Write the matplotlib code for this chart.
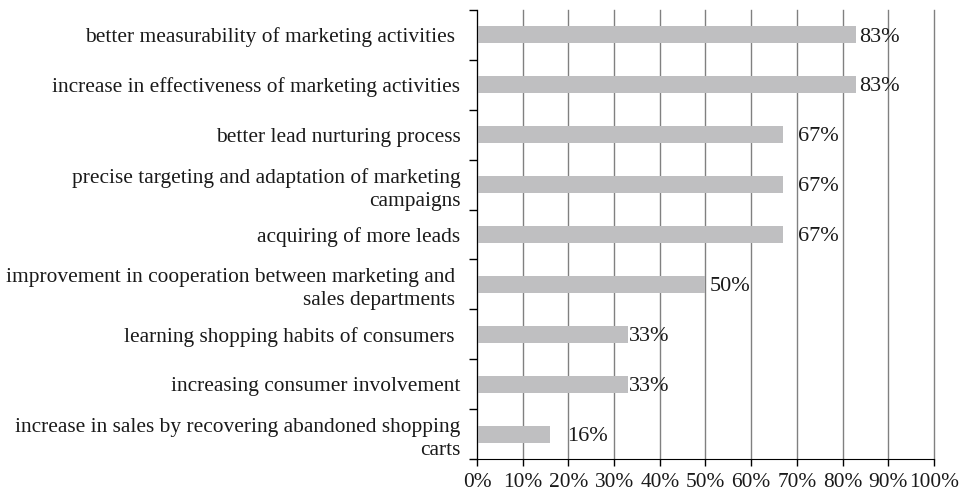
import numpy as np
import matplotlib
matplotlib.use("Agg")
import matplotlib.pyplot as plt
from matplotlib.ticker import FixedLocator, PercentFormatter

plt.rcParams['font.family'] = ['Liberation Serif', 'DejaVu Serif']

# categories top to bottom
categories = [
    "better measurability of marketing activities ",
    "increase in effectiveness of marketing activities",
    "better lead nurturing process",
    "precise targeting and adaptation of marketing\ncampaigns",
    "acquiring of more leads",
    "improvement in cooperation between marketing and \nsales departments ",
    "learning shopping habits of consumers ",
    "increasing consumer involvement",
    "increase in sales by recovering abandoned shopping\ncarts",
]
values = [83, 83, 67, 67, 67, 50, 33, 33, 16]
value_labels = ["83%", "83%", "67%", "67%", "67%", "50%", "33%", "33%", "16%"]
# label offsets from bar end, in points (as placed in the original)
label_pad = [2, 2, 11, 11, 11, 3, 1, 1, 12]

FS = 15.4

fig = plt.figure(figsize=(9.68, 4.95), dpi=100)
ax = fig.add_axes([0.4928, 0.0727, 0.472, 0.9071])

y = np.arange(len(categories))[::-1]
ax.barh(y, values, height=0.34, color="#bfbfc1", zorder=3)

for yi, v, lab, pad in zip(y, values, value_labels, label_pad):
    ax.annotate(lab, (v, yi), xytext=(pad, -1.5), textcoords="offset points",
                ha="left", va="center", fontsize=16, color="#1a1a1a", zorder=4)

ax.set_xlim(0, 100)
ax.set_ylim(-0.5, len(categories) - 0.5)
ax.set_xticks(np.arange(0, 101, 10))
ax.xaxis.set_major_formatter(PercentFormatter(decimals=0))
ax.set_yticks(y)
ax.set_yticklabels(categories, linespacing=1.3)
ax.yaxis.set_minor_locator(FixedLocator(np.arange(-0.5, len(categories), 1)))
ax.tick_params(axis="y", which="major", length=0, pad=12, labelsize=FS, labelcolor="#1a1a1a")
ax.tick_params(axis="y", which="minor", length=6, width=1, color="black")
ax.tick_params(axis="x", length=5, width=1, labelsize=FS, pad=5, labelcolor="#1a1a1a")
for t in ax.get_yticklabels():
    t.set_multialignment("right")

ax.grid(axis="x", color="#808080", linewidth=1, zorder=0)
for gl in ax.get_xgridlines():
    gl.set_clip_on(False)
for side in ["top", "right"]:
    ax.spines[side].set_visible(False)
ax.spines["left"].set_color("black")
ax.spines["bottom"].set_color("black")
ax.spines["left"].set_zorder(5)

fig.savefig("out.png", dpi=100)
